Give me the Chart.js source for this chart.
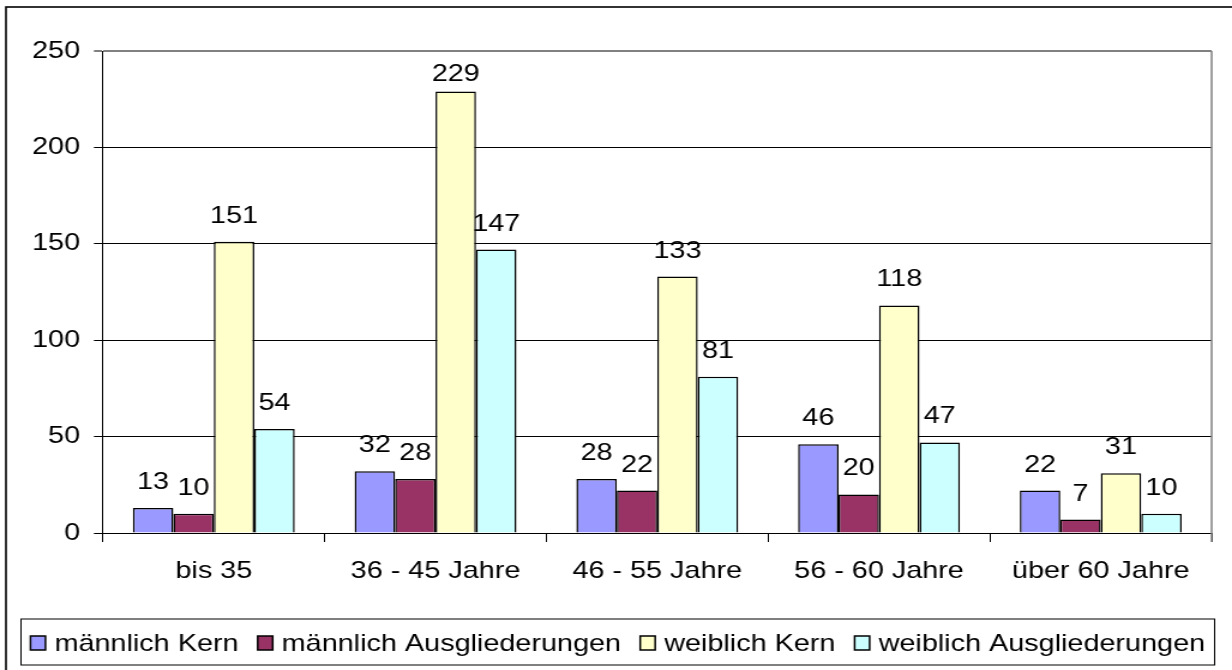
<!DOCTYPE html>
<html>
<head>
<meta charset="utf-8">
<script src="https://cdn.jsdelivr.net/npm/chart.js@4"></script>
<style>
  html, body { margin: 0; padding: 0; background: #fff; overflow: hidden; }
  #wrap { width: 1027px; height: 670px; transform: scaleX(1.19961); transform-origin: 0 0; }
</style>
</head>
<body>
<div id="wrap"><canvas id="chart" width="1027" height="670"></canvas></div>
<script>
  const categories = ["bis 35", "36 - 45 Jahre", "46 - 55 Jahre", "56 - 60 Jahre", "über 60 Jahre"];
  const seriesNames = ["männlich Kern", "männlich Ausgliederungen", "weiblich Kern", "weiblich Ausgliederungen"];
  const maennlichKern = [13, 32, 28, 46, 22];
  const maennlichAusgl = [10, 28, 22, 20, 7];
  const weiblichKern = [151, 229, 133, 118, 31];
  const weiblichAusgl = [54, 147, 81, 47, 10];
  const yMax = 250;
  const yStep = 50;

  const colors = ["#9999FF", "#993366", "#FFFFCC", "#CCFFFF"];
  const allSeries = [maennlichKern, maennlichAusgl, weiblichKern, weiblichAusgl];
  const FONT = '24px "Liberation Sans", Arial, sans-serif';

  Chart.defaults.font.family = '"Liberation Sans", Arial, sans-serif';
  Chart.defaults.font.size = 24;
  Chart.defaults.color = "#000";

  // value labels above the bars
  const valueLabels = {
    id: "valueLabels",
    afterDatasetsDraw(chart) {
      const ctx = chart.ctx;
      ctx.save();
      ctx.font = FONT;
      ctx.fillStyle = "#000";
      ctx.textAlign = "center";
      ctx.textBaseline = "alphabetic";
      chart.data.datasets.forEach((ds, i) => {
        chart.getDatasetMeta(i).data.forEach((bar, j) => {
          const y = Math.max(bar.y - 19, chart.chartArea.top + 30);
          ctx.fillText(String(ds.data[j]), bar.x, y);
        });
      });
      ctx.restore();
    }
  };

  // outer frame, plot border right, legend in a box
  const frames = {
    id: "frames",
    afterDraw(chart) {
      const ctx = chart.ctx;
      const a = chart.chartArea;
      ctx.save();
      ctx.strokeStyle = "#808080";
      ctx.lineWidth = 1.5;
      ctx.beginPath();
      ctx.moveTo(a.right, a.top);
      ctx.lineTo(a.right, a.bottom + 9);
      ctx.stroke();

      // legend
      const cy = 643;
      const boxLeft = 17.5, boxRight = 1012.5;
      ctx.strokeStyle = "#000";
      ctx.lineWidth = 1;
      ctx.strokeRect(boxLeft, cy - 24, boxRight - boxLeft, 46);
      ctx.font = FONT;
      ctx.textBaseline = "middle";
      ctx.textAlign = "left";
      const boxW = 12.5, boxH = 14, gap = 7.5, between = 16;
      const widths = chart.data.datasets.map(ds => boxW + gap + ctx.measureText(ds.label).width);
      const total = widths.reduce((s, w) => s + w, 0) + between * (widths.length - 1);
      let x = (boxLeft + boxRight) / 2 - total / 2;
      chart.data.datasets.forEach((ds, i) => {
        ctx.fillStyle = ds.backgroundColor;
        ctx.fillRect(x, cy - boxH / 2, boxW, boxH);
        ctx.lineWidth = 1.5;
        ctx.strokeRect(x, cy - boxH / 2, boxW, boxH);
        ctx.fillStyle = "#000";
        ctx.fillText(ds.label, x + boxW + gap, cy + 1);
        x += widths[i] + between;
      });

      // outer chart frame (top + left visible)
      ctx.strokeStyle = "#000";
      ctx.lineWidth = 1.6;
      ctx.strokeRect(5, 7, 1200, 1000);
      ctx.restore();
    }
  };

  const ctx = document.getElementById("chart").getContext("2d");
  new Chart(ctx, {
    type: "bar",
    data: {
      labels: categories,
      datasets: allSeries.map((vals, i) => ({
        label: seriesNames[i],
        data: vals,
        backgroundColor: colors[i],
        borderColor: "#000",
        borderWidth: 1.5,
        categoryPercentage: 0.73,
        barPercentage: 1.0
      }))
    },
    options: {
      responsive: false,
      animation: false,
      events: [],
      layout: { padding: { left: 10, top: 51, right: 17, bottom: 53.5 } },
      plugins: {
        legend: { display: false },
        tooltip: { enabled: false }
      },
      scales: {
        x: {
          grid: {
            drawOnChartArea: false,
            drawTicks: true,
            tickLength: 9,
            color: "#000",
            lineWidth: 1
          },
          border: { display: true, color: "#000", width: 1 },
          ticks: { padding: 15, color: "#000", font: { size: 24 } },
          afterFit(scale) { scale.height = 83.5; }
        },
        y: {
          min: 0,
          max: yMax,
          ticks: { stepSize: yStep, padding: 11.5, color: "#000", font: { size: 24 } },
          grid: {
            color: (c) => (c.tick && c.tick.value === yMax ? "#808080" : "#000"),
            lineWidth: (c) => (c.tick && c.tick.value === yMax ? 2 : 1),
            tickLength: 7.5
          },
          border: { display: true, color: "#000", width: 1 },
          afterFit(scale) { scale.width = 75.8; }
        }
      }
    },
    plugins: [valueLabels, frames]
  });
</script>
</body>
</html>
